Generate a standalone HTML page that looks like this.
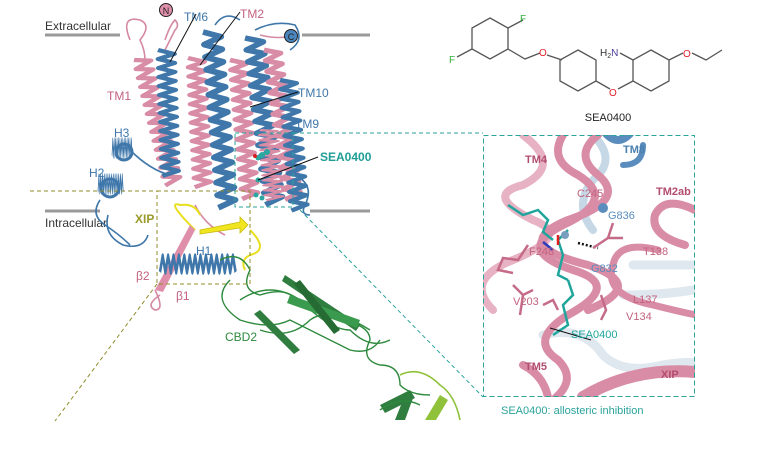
<!DOCTYPE html>
<html><head><meta charset="utf-8"><style>
html,body{margin:0;padding:0;background:#fff;}
svg{display:block;font-family:"Liberation Sans",sans-serif;}
</style></head><body>
<svg width="781" height="470" viewBox="0 0 781 470" xmlns="http://www.w3.org/2000/svg">
<defs>
<path id="hx" d="M0 0 l16 6 l-16 6 l16 6 l-16 6 l16 6 l-16 6 l16 6 l-16 6 l16 6 l-16 6 l16 6 l-16 6 l16 6 l-16 6 l16 6 l-16 6 l16 6 l-16 6 l16 6 l-16 6 l16 6 l-16 6 l16 6 l-16 6 l16 6 l-16 6 l16 6 l-16 6" fill="none" stroke-width="5.5" stroke-linejoin="round"/>
</defs>
<rect width="781" height="470" fill="#fff"/>

<line x1="45" y1="35" x2="120" y2="35" stroke="#9a9a9a" stroke-width="3"/>
<line x1="302" y1="35" x2="370" y2="35" stroke="#9a9a9a" stroke-width="3"/>
<line x1="45" y1="211" x2="100" y2="211" stroke="#9a9a9a" stroke-width="3"/>
<line x1="310" y1="211" x2="370" y2="211" stroke="#9a9a9a" stroke-width="3"/>
<text x="45" y="30" font-size="12" fill="#333">Extracellular</text>
<text x="45" y="227" font-size="12" fill="#333">Intracellular</text>

<g fill="none" stroke-width="1.6">
<path d="M130 40 q-10 -25 10 -20 q12 5 0 20 q5 10 5 20" stroke="#d48aa2"/>
<path d="M165 40 q5 -15 10 -20 q5 5 0 10 q-5 10 -10 20" stroke="#d48aa2"/>
<path d="M255 30 q20 -10 40 -5 q10 15 -5 25" stroke="#3f77aa"/>
<path d="M260 35 q20 5 35 0" stroke="#d48aa2"/>
<path d="M215 25 q10 -15 25 -5" stroke="#3f77aa"/>
<path d="M108 215 q-5 20 15 30 q20 5 25 -10" stroke="#3f77aa"/>
<path d="M130 150 q20 20 40 25" stroke="#3f77aa"/>
<path d="M295 175 q20 10 10 30 q-5 10 5 10" stroke="#3f77aa"/>
<path d="M195 205 q10 20 30 30" stroke="#d48aa2"/>
<path d="M155 290 q10 20 0 20 q-10 -5 5 -15" stroke="#d48aa2"/>
<path d="M100 200 q-10 15 5 25 q15 10 25 20" stroke="#3f77aa"/>
</g>

<g>
<use href="#hx" stroke="#d98ca5" transform="translate(134,60) rotate(-14) scale(1,0.77)"/>
<use href="#hx" stroke="#3f77aa" transform="translate(158,50) rotate(-2) scale(1,0.75)"/>
<use href="#hx" stroke="#d98ca5" transform="translate(188,58) rotate(-3) scale(1,0.77)"/>
<use href="#hx" stroke="#3f77aa" transform="translate(203,32) rotate(-5) scale(1.1,1.05)"/>
<use href="#hx" stroke="#d98ca5" transform="translate(230,60) rotate(-5) scale(1,0.83)"/>
<use href="#hx" stroke="#3f77aa" transform="translate(245,38) rotate(-7) scale(1.1,1.0)"/>
<use href="#hx" stroke="#d98ca5" transform="translate(264,50) rotate(-8) scale(1,0.9)"/>
<use href="#hx" stroke="#3f77aa" transform="translate(280,80) rotate(-5) scale(1,0.78)"/>
<use href="#hx" stroke="#d98ca5" transform="translate(260,130) rotate(-5) scale(1,0.42)"/>
<use href="#hx" stroke="#3f77aa" transform="translate(112,156) rotate(-90) scale(1,0.12)"/>
<use href="#hx" stroke="#3f77aa" transform="translate(98,192) rotate(-90) scale(1,0.15)"/>
<circle cx="124" cy="152" r="8" fill="none" stroke="#3f77aa" stroke-width="3"/>
<circle cx="110" cy="188" r="9" fill="none" stroke="#3f77aa" stroke-width="3"/>
</g>

<path d="M200 230 l40 -8 l0 -5 l8 8 l-8 8 l0 -5 l-40 6 z" fill="#f0e51f" stroke="#c9bd10" stroke-width="0.8"/>
<path d="M195 230 q-30 -30 -15 -25 q15 -2 20 10" fill="none" stroke="#e8df20" stroke-width="2"/>
<path d="M250 230 q20 20 0 25 q-10 5 -5 15" fill="none" stroke="#e8df20" stroke-width="2"/>
<path d="M190 225 l-35 65 l8 2 l32 -62 z" fill="#e08fab"/>
<use href="#hx" stroke="#3f77aa" transform="translate(160,272) rotate(-90) scale(1,0.45)"/>

<g fill="none" stroke="#2e8a3e" stroke-width="1.4">
<path d="M220 260 q20 -10 30 10 q-10 20 10 25 q30 -10 40 10 q20 10 40 15 q30 5 30 20 q-10 20 10 25 q20 0 20 20 q10 10 30 10"/>
<path d="M230 280 q-20 20 10 40 q30 10 50 0 q20 10 60 30 q20 5 30 -10"/>
<path d="M240 300 q30 -20 60 0 q30 30 50 30 q20 20 40 10"/>
<path d="M260 330 q30 10 50 -10 q20 -15 60 10"/>
</g>
<path d="M285 275 l75 50 l-4 6 l-74 -50 z" fill="#2f7e3f"/>
<path d="M290 295 l70 25 l-3 8 l-70 -25 z" fill="#3a9a4d"/>
<path d="M260 310 l40 40 l-6 4 l-40 -40 z" fill="#2f7e3f"/>
<path d="M300 280 l40 50 l-6 4 l-40 -50 z" fill="#256b33"/>
<path d="M380 405 l30 -15 l5 8 l-30 15 z" fill="#2f7e3f"/>
<path d="M395 420 l10 -25 l8 3 l-8 22 z" fill="#2f7e3f"/>
<path d="M400 375 q20 -10 40 10 q15 10 20 35" fill="none" stroke="#8fc23a" stroke-width="1.6"/>
<path d="M425 420 l15 -25 l8 5 l-12 20 z" fill="#8fc23a"/>
<path d="M380 410 q20 -15 40 -5" fill="none" stroke="#2e8a3e" stroke-width="1.4"/>

<g fill="#2aa7a0"><circle cx="262" cy="155" r="3"/><circle cx="267" cy="152" r="3"/><circle cx="258" cy="158" r="2.5"/><circle cx="258" cy="180" r="2.5"/><circle cx="256" cy="195" r="2.5"/><circle cx="262" cy="198" r="2.5"/></g>
<circle cx="255" cy="156" r="2" fill="#d62020"/>

<circle cx="166" cy="10" r="6.5" fill="#e08fab" stroke="#222" stroke-width="1"/>
<text x="166" y="14" font-size="9" text-anchor="middle" fill="#222">N</text>
<circle cx="291" cy="36" r="6.5" fill="#4a86bd" stroke="#222" stroke-width="1"/>
<text x="291" y="40" font-size="9" text-anchor="middle" fill="#222">C</text>

<g font-size="12">
<text x="184" y="21" fill="#3f77aa">TM6</text>
<text x="240" y="18" fill="#c2627f">TM2</text>
<text x="107" y="100" fill="#c2627f">TM1</text>
<text x="298" y="97" fill="#3f77aa">TM10</text>
<text x="295" y="128" fill="#3f77aa">TM9</text>
<text x="320" y="161" fill="#1f9e96" font-weight="bold">SEA0400</text>
<text x="114" y="137" fill="#3f77aa">H3</text>
<text x="89" y="177" fill="#3f77aa">H2</text>
<text x="135" y="223" fill="#9a9a2a" font-weight="bold">XIP</text>
<text x="196" y="255" fill="#3f77aa">H1</text>
<text x="136" y="280" fill="#c2627f">β2</text>
<text x="176" y="300" fill="#c2627f">β1</text>
<text x="225" y="341" fill="#2e8a3e">CBD2</text>
</g>
<g stroke="#111" stroke-width="1">
<line x1="196" y1="14" x2="170" y2="62"/>
<line x1="240" y1="12" x2="200" y2="65"/>
<line x1="298" y1="92" x2="250" y2="107"/>
<line x1="318" y1="157" x2="258" y2="180"/>
</g>

<g fill="none" stroke="#8f8c2a" stroke-width="1" stroke-dasharray="4,3">
<line x1="30" y1="191" x2="157" y2="191"/>
<rect x="157" y="191" width="93" height="93"/>
<line x1="157" y1="284" x2="55" y2="421"/>
</g>
<g fill="none" stroke="#2aa39b" stroke-width="1" stroke-dasharray="4,3">
<rect x="235" y="133" width="58" height="74"/>
<line x1="293" y1="133" x2="483" y2="133"/>
<line x1="300" y1="210" x2="483" y2="397"/>
</g>

<g fill="none" stroke="#555" stroke-width="1.3">
<polygon points="490,18 508,28 508,49 490,59 472,49 472,28"/>
<line x1="508" y1="28" x2="523" y2="20"/>
<line x1="472" y1="49" x2="457" y2="57"/>
<polyline points="508,49 525,59 540,53"/>
<line x1="547" y1="55" x2="562" y2="60"/>
<polygon points="578,50 596,60 596,81 578,91 560,81 560,60"/>
<line x1="596" y1="81" x2="610" y2="89"/>
<line x1="618" y1="89" x2="633" y2="81"/>
<polygon points="651,50 669,60 669,81 651,91 633,81 633,60"/>
<line x1="633" y1="60" x2="620" y2="53"/>
<line x1="669" y1="60" x2="683" y2="53"/>
<polyline points="692,53 706,60 722,50"/>
</g>
<g font-size="10">
<text x="520" y="22" fill="#2fae3a">F</text>
<text x="449" y="63" fill="#2fae3a">F</text>
<text x="539" y="56" fill="#e0202a">O</text>
<text x="609" y="96" fill="#e0202a">O</text>
<text x="683" y="57" fill="#e0202a">O</text>
<text x="600" y="56" fill="#333">H<tspan font-size="7" dy="2">2</tspan><tspan dy="-2" fill="#4a3d9a">N</tspan></text>
</g>
<text x="608" y="121" font-size="11" fill="#222" text-anchor="middle">SEA0400</text>

<svg x="483" y="135" width="212" height="262" viewBox="0 0 212 262">
<rect width="212" height="262" fill="#fff"/>
<g fill="none" stroke-linecap="round">
<path d="M60 200 q40 -10 60 20 q20 20 60 10 q30 -5 40 0" stroke="#dfe8ef" stroke-width="9"/>
<path d="M150 130 q30 0 60 0 M140 160 q40 0 70 -5" stroke="#dfe8ef" stroke-width="9"/>
<path d="M110 0 q25 25 0 45 q-20 25 0 50" stroke="#c6d8e6" stroke-width="8"/>
<path d="M120 -5 q15 20 30 0" stroke="#5a8dbd" stroke-width="8"/>
<path d="M140 30 q20 0 20 -20" stroke="#5a8dbd" stroke-width="6"/>
<path d="M40 0 q40 30 0 50 q-40 10 10 35 q40 15 -20 40 q-50 20 -20 50" stroke="#e7b2c3" stroke-width="8"/>
<path d="M80 0 q-15 25 15 40 q40 25 -15 50 q-50 25 10 45 q50 15 -5 45 q-40 25 -10 45 q20 20 -5 40" stroke="#d98ca5" stroke-width="8"/>
<path d="M115 0 q-25 20 0 40 q30 25 -30 45 q-60 25 20 45 q60 20 0 45" stroke="#d98ca5" stroke-width="8"/>
<path d="M212 75 q-30 -15 -40 5 q-5 20 30 30" stroke="#d98ca5" stroke-width="8"/>
<path d="M175 115 q-40 -10 -45 15 q-10 30 40 40 q40 10 45 10" stroke="#d98ca5" stroke-width="7"/>
<path d="M100 262 q50 -30 112 -25" stroke="#d98ca5" stroke-width="12"/>
<path d="M40 230 q20 10 25 32" stroke="#d98ca5" stroke-width="8"/>
</g>
<g fill="none" stroke-width="2.5">
<path d="M25 70 l15 10 l15 -5 l10 10 l-5 12 l10 8" stroke="#1fa59c"/>
<path d="M85 95 l-10 10 l5 15 l-5 20 l10 5" stroke="#1fa59c"/>
<path d="M85 145 l5 15 l-10 10 l5 20 l-15 10" stroke="#1fa59c"/>
<path d="M70 115 l-10 -8" stroke="#2a3dbd"/>
<path d="M75 100 l0 10" stroke="#e02020"/>
<path d="M95 108 l20 5" stroke="#111" stroke-dasharray="2,2"/>
<path d="M45 110 l-10 15 l-15 -2 l-5 12 l15 3" stroke="#c56b88"/>
<path d="M30 150 l10 10 l10 -5 M40 160 l-3 20" stroke="#c56b88"/>
<path d="M110 113 l15 -10 l5 -15 M125 103 l15 0" stroke="#c56b88"/>
<path d="M60 170 l10 -5 l5 10" stroke="#c56b88"/>
<path d="M118 160 l5 15 l-5 10" stroke="#c56b88"/>
</g>
<circle cx="120" cy="73" r="5" fill="#5a8dbd"/>
<circle cx="82" cy="100" r="4" fill="#7a9ec0"/>
<line x1="67" y1="193" x2="108" y2="205" stroke="#111" stroke-width="1"/>
<g font-size="11">
<text x="42" y="28" fill="#b24d6e" font-weight="bold">TM4</text>
<text x="140" y="18" fill="#4a7fb0" font-weight="bold">TM8</text>
<text x="94" y="62" fill="#c2627f">C245</text>
<text x="173" y="60" fill="#b24d6e" font-weight="bold">TM2ab</text>
<text x="125" y="84" fill="#5a8dbd">G836</text>
<text x="46" y="120" fill="#c2627f">F248</text>
<text x="160" y="120" fill="#c2627f">T138</text>
<text x="108" y="137" fill="#5a8dbd">G832</text>
<text x="30" y="170" fill="#c2627f">V203</text>
<text x="150" y="168" fill="#c2627f">L137</text>
<text x="143" y="185" fill="#c2627f">V134</text>
<text x="88" y="203" fill="#1fa59c">SEA0400</text>
<text x="42" y="235" fill="#b24d6e" font-weight="bold">TM5</text>
<text x="178" y="243" fill="#b24d6e" font-weight="bold">XIP</text>
</g>
</svg>
<rect x="483.5" y="135.5" width="211" height="261" fill="none" stroke="#2aa39b" stroke-width="1" stroke-dasharray="5,3"/>
<text x="501" y="414" font-size="11" fill="#2aa39b">SEA0400: allosteric inhibition</text>
</svg>
</body></html>
